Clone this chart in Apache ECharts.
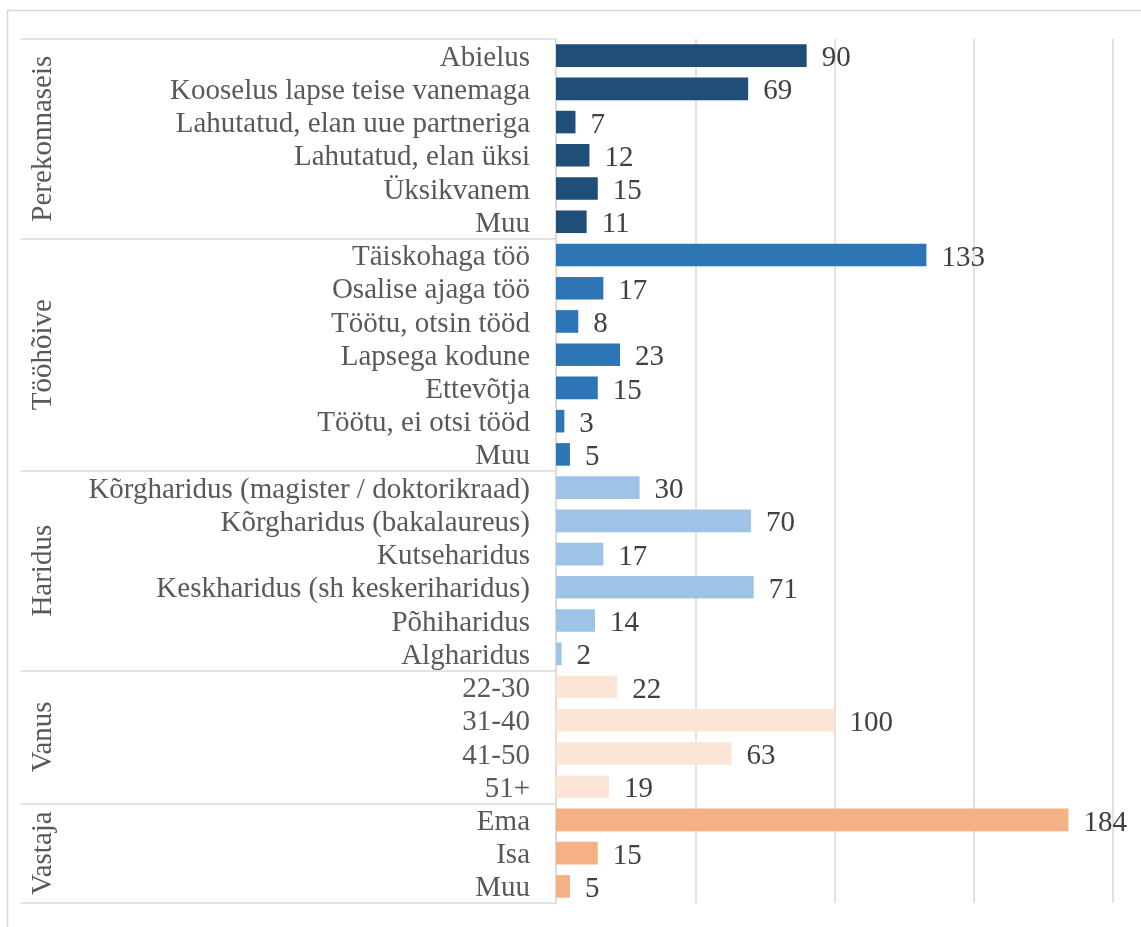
<!DOCTYPE html>
<html>
<head>
<meta charset="utf-8">
<script src="https://cdn.jsdelivr.net/npm/echarts@6/dist/echarts.min.js"></script>
<style>
  html, body { margin: 0; padding: 0; background: #fff; }
  #chart { width: 1141px; height: 927px; }
</style>
</head>
<body>
<div id="chart"></div>
<script>
// group names and their items, top to bottom
const groupNames = ['Perekonnaseis', 'Tööhõive', 'Haridus', 'Vanus', 'Vastaja'];
const groupColors = ['#1F4E79', '#2E75B6', '#9DC3E6', '#FBE5D6', '#F4B183'];

const perekonnaseisLabels = ['Abielus', 'Kooselus lapse teise vanemaga', 'Lahutatud, elan uue partneriga', 'Lahutatud, elan üksi', 'Üksikvanem', 'Muu'];
const perekonnaseisValues = [90, 69, 7, 12, 15, 11];

const toohoiveLabels = ['Täiskohaga töö', 'Osalise ajaga töö', 'Töötu, otsin tööd', 'Lapsega kodune', 'Ettevõtja', 'Töötu, ei otsi tööd', 'Muu'];
const toohoiveValues = [133, 17, 8, 23, 15, 3, 5];

const haridusLabels = ['Kõrgharidus (magister / doktorikraad)', 'Kõrgharidus (bakalaureus)', 'Kutseharidus', 'Keskharidus (sh keskeriharidus)', 'Põhiharidus', 'Algharidus'];
const haridusValues = [30, 70, 17, 71, 14, 2];

const vanusLabels = ['22-30', '31-40', '41-50', '51+'];
const vanusValues = [22, 100, 63, 19];

const vastajaLabels = ['Ema', 'Isa', 'Muu'];
const vastajaValues = [184, 15, 5];

const xTicks = [0, 50, 100, 150, 200];

const groups = [
    { labels: perekonnaseisLabels, values: perekonnaseisValues },
    { labels: toohoiveLabels, values: toohoiveValues },
    { labels: haridusLabels, values: haridusValues },
    { labels: vanusLabels, values: vanusValues },
    { labels: vastajaLabels, values: vastajaValues }
];

let categories = [];
let barData = [];
let boundaries = [0];
let centers = [];
let centerNames = {};

groups.forEach((g, gi) => {
    let start = categories.length;
    g.labels.forEach((label, i) => {
        categories.push(label);
        barData.push({ value: g.values[i], itemStyle: { color: groupColors[gi] } });
    });
    let end = categories.length;
    boundaries.push(end);
    let mid = (start + end) / 2;
    centers.push(mid);
    centerNames[mid] = groupNames[gi];
});

const font = 'Liberation Serif';
const gridColor = '#D9D9D9';

let chart = echarts.init(document.getElementById('chart'));

let option = {
    animation: false,
    graphic: [{
        type: 'rect',
        shape: { x: 7.5, y: 10.5, width: 1200, height: 1000 },
        style: { fill: null, stroke: gridColor, lineWidth: 1.5 },
        silent: true
    }],
    grid: {
        left: 556,
        right: 28,
        top: 39,
        bottom: 24,
        containLabel: false,
        outerBoundsMode: 'none'
    },
    xAxis: {
        type: 'value',
        min: xTicks[0],
        max: xTicks[xTicks.length - 1],
        interval: 50,
        axisLine: { show: false },
        axisTick: { show: false },
        axisLabel: { show: false },
        splitLine: { show: true, lineStyle: { color: gridColor, width: 1.5 } }
    },
    yAxis: [{
        type: 'category',
        data: categories,
        inverse: true,
        position: 'left',
        axisLine: { show: true, lineStyle: { color: gridColor, width: 1.5 } },
        axisTick: { show: false },
        axisLabel: {
            interval: 0,
            margin: 26,
            verticalAlign: 'top',
            lineHeight: 5,
            fontFamily: font,
            fontSize: 29,
            color: '#595959'
        }
    }, {
        type: 'value',
        min: 0,
        max: categories.length,
        inverse: true,
        position: 'left',
        splitLine: { show: false },
        axisLine: { show: false },
        axisTick: {
            show: true,
            customValues: boundaries,
            length: 536,
            lineStyle: { color: gridColor, width: 1.5 }
        },
        axisLabel: {
            show: true,
            customValues: centers,
            rotate: 90,
            margin: 498,
            fontFamily: font,
            fontSize: 29,
            color: '#595959',
            formatter: v => centerNames[v] || ''
        }
    }],
    series: [{
        type: 'bar',
        yAxisIndex: 0,
        data: barData,
        barCategoryGap: '32%',
        label: {
            show: true,
            position: 'right',
            distance: 15,
            offset: [0, 3],
            fontFamily: font,
            fontSize: 29,
            color: '#404040'
        }
    }]
};

chart.setOption(option);
</script>
</body>
</html>
